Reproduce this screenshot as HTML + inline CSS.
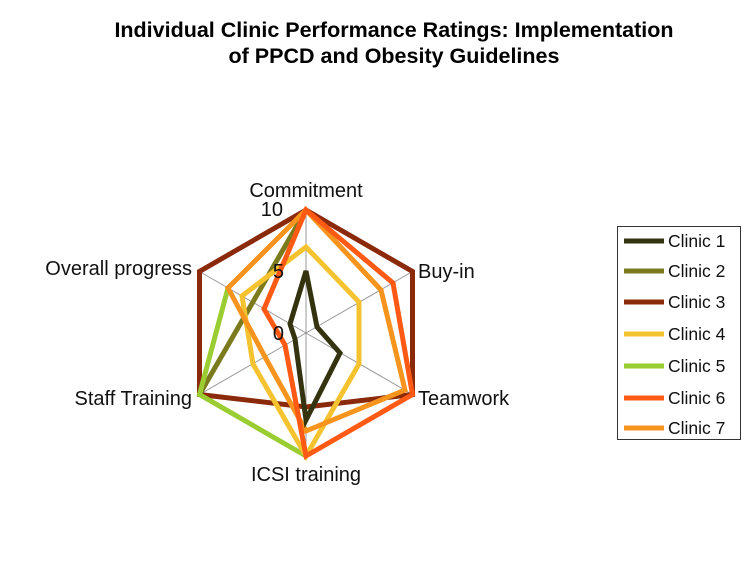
<!DOCTYPE html>
<html><head><meta charset="utf-8"><style>
html,body{margin:0;padding:0;background:#fff;}
svg{display:block;font-family:"Liberation Sans",Arial,sans-serif;}
</style></head><body>
<svg width="744" height="571" viewBox="0 0 744 571" xmlns="http://www.w3.org/2000/svg">
<rect width="744" height="571" fill="#fff"/>
<text x="394" y="37" text-anchor="middle" font-size="21.5" font-weight="bold">Individual Clinic Performance Ratings: Implementation</text>
<text x="394" y="63" text-anchor="middle" font-size="21.5" font-weight="bold">of PPCD and Obesity Guidelines</text>
<g stroke="#999" stroke-width="1">
<line x1="306" y1="333" x2="306" y2="210"/>
<line x1="306" y1="333" x2="412.5" y2="271.5"/>
<line x1="306" y1="333" x2="412.5" y2="394.5"/>
<line x1="306" y1="333" x2="306" y2="456"/>
<line x1="306" y1="333" x2="199.5" y2="394.5"/>
<line x1="306" y1="333" x2="199.5" y2="271.5"/>
</g>
<g fill="none" stroke-width="5" stroke-linejoin="miter">
<polygon stroke="#8b2a0a" points="306,210 412.5,271.5 412.5,394.5 306,407 199.5,394.5 199.5,271.5"/>
<polyline stroke="#7b7b1e" points="306,210 199.5,394.5"/>
<polyline stroke="#9acd32" points="228,288 199.5,394.5 306,456"/>
<polygon stroke="#f5c230" points="306,247 359,302 359,364 306,456 253,364 242,296"/>
<polygon stroke="#f7941d" points="306,210 381,290 405,390 306,431 265,357 228,288"/>
<polygon stroke="#ff5a14" points="306,210 393,283 412.5,394.5 306,456 285,345 264,309"/>
<polygon stroke="#333310" points="306,271 317,327 340,353 306,420 295,339 290,324"/>
</g>
<g font-size="20" fill="#111">
<text x="306" y="197" text-anchor="middle">Commitment</text>
<text x="283" y="216" text-anchor="end">10</text>
<text x="284" y="278" text-anchor="end">5</text>
<text x="284" y="340" text-anchor="end">0</text>
<text x="418" y="278">Buy-in</text>
<text x="418" y="405">Teamwork</text>
<text x="306" y="481" text-anchor="middle">ICSI training</text>
<text x="192" y="405" text-anchor="end">Staff Training</text>
<text x="192" y="275" text-anchor="end">Overall progress</text>
</g>
<rect x="617.5" y="226.5" width="123" height="213" fill="#fff" stroke="#333" stroke-width="1"/>
<g stroke-width="5">
<line x1="624" y1="241" x2="664" y2="241" stroke="#333310"/>
<line x1="624" y1="271" x2="664" y2="271" stroke="#7b7b1e"/>
<line x1="624" y1="302" x2="664" y2="302" stroke="#8b2a0a"/>
<line x1="624" y1="334" x2="664" y2="334" stroke="#f5c230"/>
<line x1="624" y1="366" x2="664" y2="366" stroke="#9acd32"/>
<line x1="624" y1="398" x2="664" y2="398" stroke="#ff5a14"/>
<line x1="624" y1="428" x2="664" y2="428" stroke="#f7941d"/>
</g>
<g font-size="17.5" fill="#111">
<text x="668" y="247">Clinic 1</text>
<text x="668" y="277">Clinic 2</text>
<text x="668" y="308">Clinic 3</text>
<text x="668" y="340">Clinic 4</text>
<text x="668" y="372">Clinic 5</text>
<text x="668" y="404">Clinic 6</text>
<text x="668" y="434">Clinic 7</text>
</g>
</svg>
</body></html>
